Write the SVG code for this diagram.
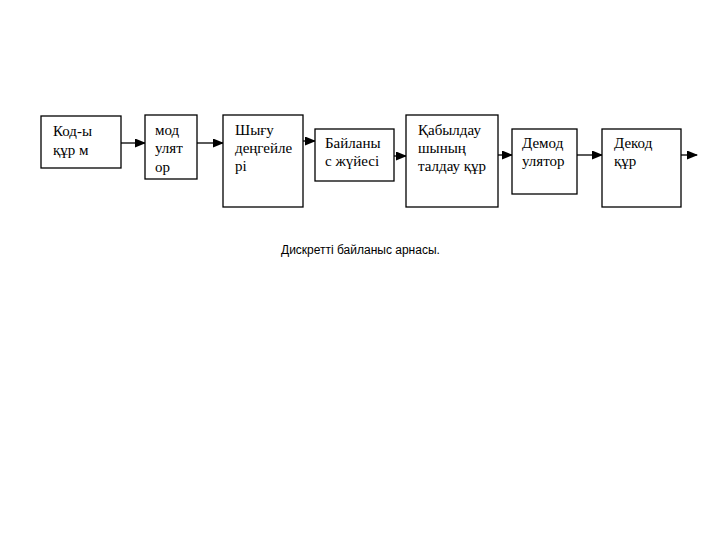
<svg xmlns="http://www.w3.org/2000/svg" width="720" height="540" viewBox="0 0 720 540">
<style>
.box{fill:#fff;stroke:#000;stroke-width:1.3}
.t{font-family:"Liberation Serif","Times New Roman",serif;font-size:15px;fill:#000}
.c{stroke:#000;stroke-width:1.3;fill:none;marker-end:url(#ah)}
.cap{font-family:"Liberation Sans",Arial,sans-serif;font-size:12px;fill:#000}
</style>
<defs>
<marker id="ah" markerWidth="11" markerHeight="9" refX="10" refY="4.5" orient="auto" markerUnits="userSpaceOnUse">
<path d="M0,0 L11,4.5 L0,9 Z" fill="#000"/>
</marker>
</defs>
<rect width="720" height="540" fill="#fff"/>
<g id="connectors">
<line class="c" x1="121" y1="143" x2="145" y2="143"/>
<line class="c" x1="197" y1="143" x2="223" y2="143"/>
<line class="c" x1="303" y1="141" x2="315" y2="141"/>
<line class="c" x1="394" y1="156" x2="406" y2="156"/>
<line class="c" x1="498" y1="155" x2="512" y2="155"/>
<line class="c" x1="577" y1="155" x2="602" y2="155"/>
<line class="c" x1="681" y1="155" x2="697" y2="155"/>
</g>
<g id="n1"><rect class="box" x="41" y="116" width="80" height="52"/>
<text class="t" x="53" y="136">Код-ы</text><text class="t" x="53" y="155">құр м</text></g>
<g id="n2"><rect class="box" x="145" y="115" width="52" height="64"/>
<text class="t" x="155" y="135">мод</text><text class="t" x="155" y="153">улят</text><text class="t" x="155" y="172">ор</text></g>
<g id="n3"><rect class="box" x="223" y="115" width="80" height="92"/>
<text class="t" x="235" y="135">Шығу</text><text class="t" x="235" y="153">деңгейле</text><text class="t" x="235" y="171">рі</text></g>
<g id="n4"><rect class="box" x="315" y="129" width="79" height="52"/>
<text class="t" x="325" y="148">Байланы</text><text class="t" x="325" y="166">с жүйесі</text></g>
<g id="n5"><rect class="box" x="406" y="115" width="92" height="92"/>
<text class="t" x="418" y="135">Қабылдау</text><text class="t" x="418" y="153">шының</text><text class="t" x="418" y="171">талдау құр</text></g>
<g id="n6"><rect class="box" x="512" y="129" width="65" height="65"/>
<text class="t" x="522" y="148">Демод</text><text class="t" x="522" y="166">улятор</text></g>
<g id="n7"><rect class="box" x="602" y="129" width="79" height="78"/>
<text class="t" x="614" y="148">Декод</text><text class="t" x="614" y="166">құр</text></g>
<text class="cap" x="281" y="254">Дискретті байланыс арнасы.</text>
</svg>
